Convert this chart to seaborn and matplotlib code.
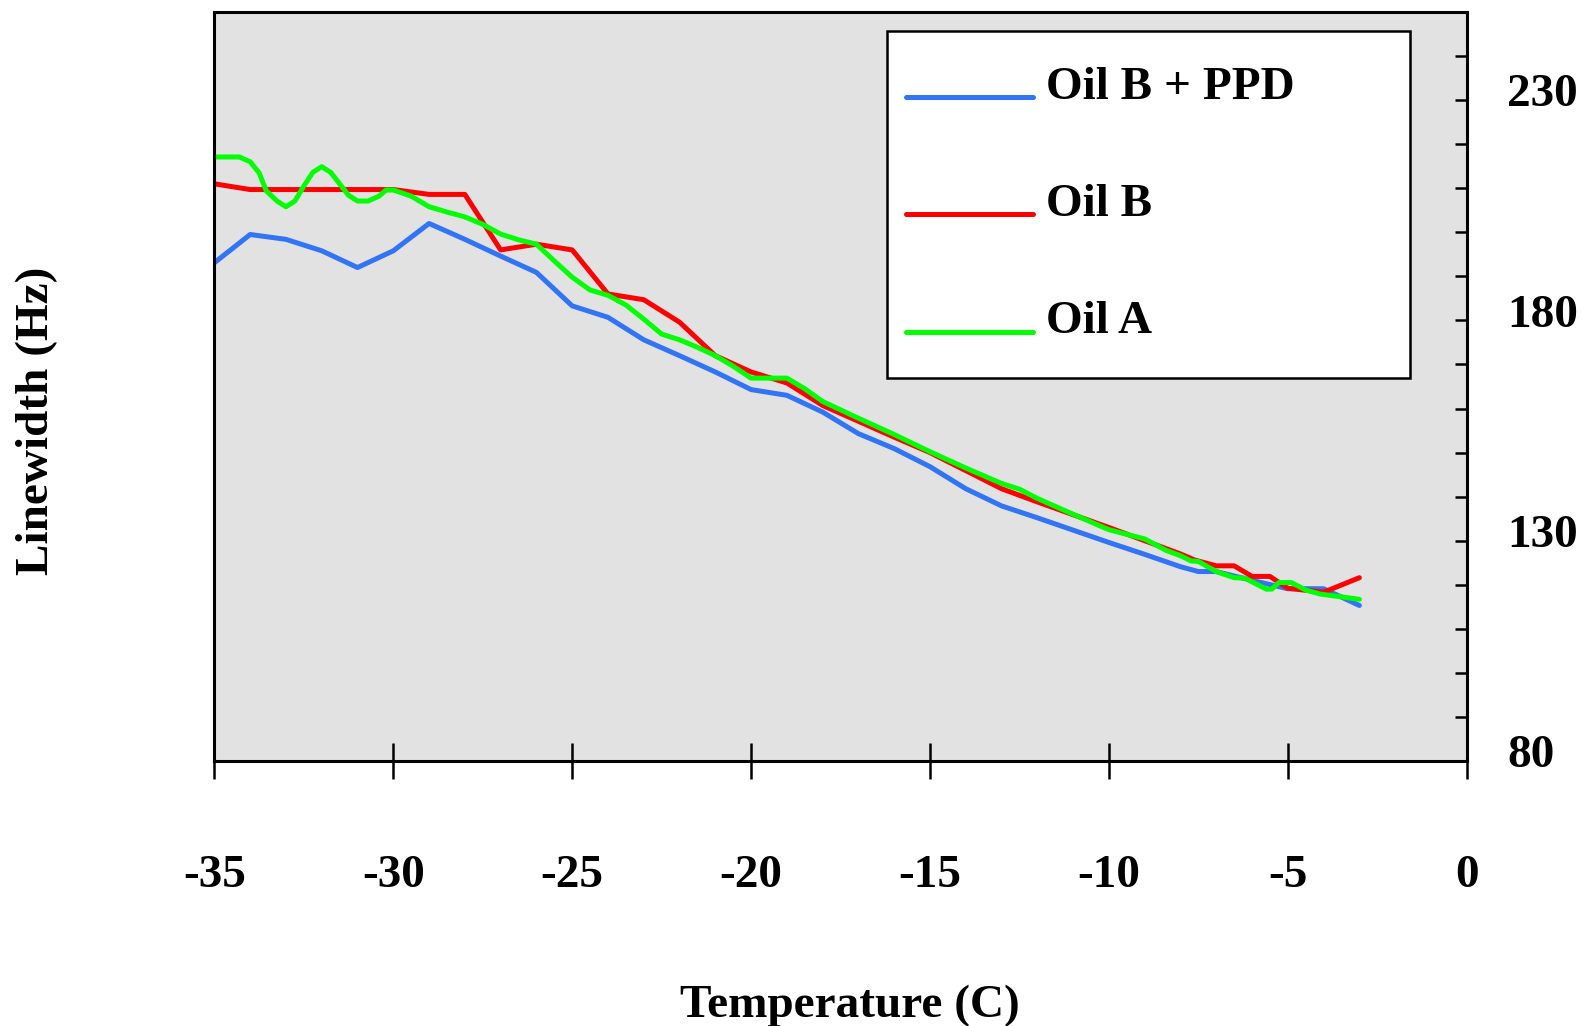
import numpy as np
import pandas as pd
import matplotlib
matplotlib.use("Agg")
import matplotlib.pyplot as plt
import matplotlib.transforms as mtransforms
import seaborn as sns

# ---- data ----
t_ppd = [-35, -34, -33, -32, -31, -30, -29, -28, -27, -26, -25, -24, -23, -22, -21, -20,
         -19, -18, -17, -16, -15, -14, -13, -12, -11, -10, -9, -8, -7.5, -7, -6, -5, -4, -3]
v_ppd = [193.1, 199.5, 198.4, 195.8, 192.0, 195.8, 202.0, 198.4, 194.6, 190.9,
         183.3, 180.7, 175.6, 172.0, 168.3, 164.3, 163.0, 159.2, 154.3, 150.9,
         146.8, 141.8, 137.9, 135.2, 132.4, 129.6, 126.9, 124.1,
         123.0, 123.0, 121.0, 119.1, 119.1, 115.3]

t_oilb = [-35, -34, -33, -32, -31, -30, -29, -28, -27, -26, -25, -24, -23, -22, -21, -20,
          -19, -18, -17, -16, -15, -14, -13, -12, -11, -10, -9, -8,
          -7.6, -7, -6.5, -6, -5.5, -5, -4, -3]
v_oilb = [211.0, 209.7, 209.7, 209.7, 209.7, 209.7, 208.6, 208.6, 196.0, 197.3,
          196.0, 186.0, 184.7, 179.6, 172.0, 168.3, 165.8, 160.7, 157.1, 153.5,
          150.0, 145.9, 141.8, 138.8, 135.9, 133.0, 130.0, 127.0,
          125.6, 124.3, 124.3, 121.9, 121.9, 119.2, 118.3, 121.6]

t_oila = [-35, -34.3, -34.0, -33.75, -33.55, -33.25, -33.0, -32.75, -32.5, -32.25,
          -32.0, -31.75, -31.5, -31.25, -31.0, -30.7, -30.4, -30.2, -30.0, -29.5,
          -29.0, -28.5, -28.0, -27.5, -27.0, -26.5, -26.0, -25.5, -25.0, -24.5,
          -24.0, -23.5, -23.0, -22.5, -22.0, -21.5, -21.0, -20.5, -20.0, -19.0,
          -18.5, -18.0, -17.0, -16.0, -15.0, -14.0, -13.0, -12.5, -12.0, -11.0,
          -10.0, -9.0, -8.4, -8.0, -7.7, -7.5, -7.0, -6.5, -6.2, -5.6,
          -5.45, -5.25, -4.9, -4.5, -4.1, -3.0]
v_oila = [217.1, 217.1, 216.0, 213.5, 209.4, 207.1, 205.8, 207.1, 210.5, 213.6,
          214.9, 213.6, 211.0, 208.4, 207.1, 207.1, 208.2, 209.6, 209.6, 208.2,
          205.8, 204.6, 203.5, 201.8, 199.6, 198.3, 197.3, 193.5, 189.8, 186.9,
          185.7, 183.5, 180.3, 176.9, 175.6, 173.9, 172.0, 169.6, 166.9, 166.9,
          164.5, 161.6, 157.8, 154.1, 150.2, 146.5, 143.0, 141.7, 139.6, 136.0,
          132.5, 130.4, 127.8, 126.6, 125.4, 125.3, 123.0, 121.6, 121.5, 119.0,
          119.0, 120.5, 120.5, 118.8, 117.9, 116.7]

series_names = ["Oil B + PPD", "Oil B", "Oil A"]
series_colors = ["#3174f5", "#ff0000", "#00ff00"]
x_ticks = [-35, -30, -25, -20, -15, -10, -5, 0]
y_major = [80, 130, 180, 230]
y_minor = list(range(80, 251, 10))

df = pd.concat([
    pd.DataFrame({"Temperature": t_ppd, "Linewidth": v_ppd, "Sample": series_names[0]}),
    pd.DataFrame({"Temperature": t_oilb, "Linewidth": v_oilb, "Sample": series_names[1]}),
    pd.DataFrame({"Temperature": t_oila, "Linewidth": v_oila, "Sample": series_names[2]}),
], ignore_index=True)

# ---- style ----
sns.set_style("white")
plt.rcParams["font.family"] = ["Liberation Serif", "DejaVu Serif"]
plt.rcParams["font.weight"] = "bold"
plt.rcParams["text.color"] = "black"
plt.rcParams["axes.labelcolor"] = "black"
plt.rcParams["xtick.color"] = "black"
plt.rcParams["ytick.color"] = "black"

W, H = 1586, 1026
fig = plt.figure(figsize=(W / 100, H / 100), dpi=100)
ax_left, ax_right, ax_top, ax_bottom = 214.4, 1466.7, 12.0, 761.0
ax = fig.add_axes([ax_left / W, 1 - ax_bottom / H, (ax_right - ax_left) / W, (ax_bottom - ax_top) / H])
ax.set_facecolor("#e2e2e2")

sns.lineplot(data=df, x="Temperature", y="Linewidth", hue="Sample",
             hue_order=series_names, palette=dict(zip(series_names, series_colors)),
             estimator=None, sort=False, linewidth=3.6, legend=False, ax=ax)

ax.set_xlim(-35, 0)
ax.set_ylim(80, 250)
ax.set_xlabel("")
ax.set_ylabel("")

for s in ax.spines.values():
    s.set_visible(True)
    s.set_color("black")
    s.set_linewidth(2.2)

FS = 34
ax.set_xticks(x_ticks)
ax.set_xticklabels([str(v) for v in x_ticks], fontsize=FS, fontweight="bold", color="black")
ax.tick_params(axis="x", bottom=True, top=False, direction="inout", length=26, width=1.8,
               pad=55, colors="black")

ax.yaxis.tick_right()
ax.set_yticks(y_major)
ax.set_yticks(y_minor, minor=True)
ax.set_yticklabels([str(v) for v in y_major], fontsize=FS, fontweight="bold", color="black")
ax.tick_params(axis="y", which="both", direction="in", length=9, width=1.8, pad=29,
               left=False, right=True, colors="black")
offset = mtransforms.ScaledTranslation(0, 7 / 72, fig.dpi_scale_trans)
for lbl in ax.get_yticklabels():
    lbl.set_transform(lbl.get_transform() + offset)
ax.grid(False)

handles = ax.get_lines()[:3]
leg = ax.legend(handles, series_names, loc="upper left",
                bbox_to_anchor=(0.537, 0.511, 0.418, 0.464), mode="expand",
                prop={"family": "Liberation Serif", "weight": "bold", "size": FS},
                frameon=True, fancybox=False, framealpha=1.0, edgecolor="black",
                borderpad=0.74, labelspacing=1.57, handlelength=2.4, handletextpad=0.23,
                borderaxespad=0)
leg.get_frame().set_linewidth(1.8)
leg.get_frame().set_facecolor("white")
for t in leg.get_texts():
    t.set_color("black")
# place the key lines like the reference: a little to the left and on the text baseline
px = 72 / 100
for h in leg.legend_handles:
    yd = np.asarray(h.get_ydata(), dtype=float)
    h.set_xdata([-16 * px, -16 * px + 127 * px])
    h.set_ydata([yd[0] - 15 * px, yd[0] - 15 * px])
    h.set_linewidth(3.6)

fig.text(850 / W, 1 - 1006 / H, "Temperature (C)", ha="center", va="center",
         fontsize=FS, fontweight="bold", color="black")
fig.text(37 / W, 1 - 421 / H, "Linewidth (Hz)", ha="center", va="center",
         rotation=90, fontsize=FS, fontweight="bold", color="black")

fig.savefig("out.png", dpi=100)
